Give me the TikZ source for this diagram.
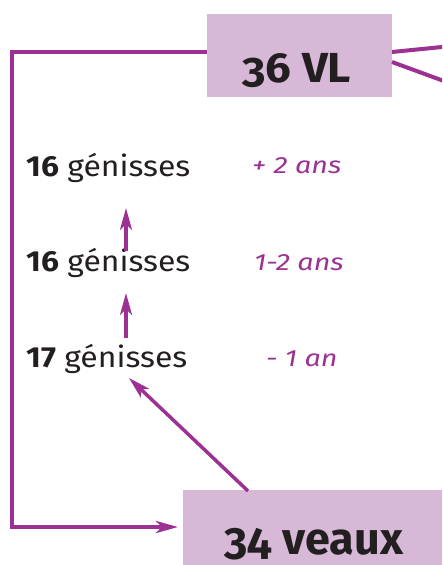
\documentclass[tikz,border=0pt]{standalone}
\usepackage{fontspec}
\setmainfont{Fira Sans}
\usetikzlibrary{arrows.meta}
\definecolor{vio}{HTML}{9C3093}
\definecolor{lila}{HTML}{D7B9D7}
\definecolor{ink}{HTML}{231F20}
\tikzset{
  box/.style={fill=lila, inner sep=0pt},
  bigtxt/.style={anchor=base, inner sep=0pt, text=ink},
  heif/.style={anchor=base west, inner sep=0pt, text=ink, font=\addfontfeatures{FakeStretch=1.1}\fontsize{29}{31}\selectfont},
  age/.style={anchor=base west, inner sep=0pt, text=vio, font=\itshape\addfontfeatures{FakeStretch=1.22}\fontsize{23.5}{25}\selectfont},
  flow/.style={draw=vio, line width=4pt},
  tip/.style={-{Stealth[length=22pt,width=12pt,inset=6pt]}},
}
\begin{document}
\begin{tikzpicture}[x=1pt,y=-1pt]
\useasboundingbox (0,0) rectangle (442,565);
\clip (0,0) rectangle (442,565);
% boxes
\node (vl) [box, minimum width=185pt, minimum height=83pt] at (299.5,55.5) {};
\node (vltxt) [bigtxt, font=\bfseries\addfontfeatures{Numbers=OldStyle,FakeStretch=1.08}\fontsize{42}{44}\selectfont] at (297,82) {36 VL};
\node (veaux) [box, minimum width=277pt, minimum height=90pt] at (321.5,535) {};
\node (vxtxt) [bigtxt, font=\bfseries\addfontfeatures{Numbers=OldStyle}\fontsize{45}{47}\selectfont] at (314,554) {34 veaux};
% heifers
\node (g2) [heif] at (26,176) {\textbf{16} génisses};
\node (g1) [heif] at (26,271) {\textbf{16} génisses};
\node (g0) [heif] at (26,367) {\textbf{17} génisses};
\node (a2) [age] at (252,173) {+ 2 ans};
\node (a1) [age] at (254,270) {1-2 ans};
\node (a0) [age] at (266,366) {- 1 an};
% coordinates
\coordinate (c1) at (12,52);
\coordinate (c2) at (12,527);
\coordinate (vlw) at (vl.west |- 0,52);
\coordinate (vxw) at (178,527);
\coordinate (r1) at (392,52);
\coordinate (r2) at (392,62);
\coordinate (o1) at (452,46);
\coordinate (o2) at (452,84);
\coordinate (u1s) at (126,251);
\coordinate (u1e) at (126,208);
\coordinate (u2s) at (126,338);
\coordinate (u2e) at (126,293);
\coordinate (ds) at (248,491);
\coordinate (de) at (129,378);
% connectors
\draw[flow, tip] (vlw) -- (c1) -- (c2) -- (vxw);
\draw[flow] (r1) -- (o1);
\draw[flow] (r2) -- (o2);
\draw[flow, line width=3.5pt, tip] (u1s) -- (u1e);
\draw[flow, line width=3.5pt, tip] (u2s) -- (u2e);
\draw[flow, line width=3.5pt, tip] (ds) -- (de);
\end{tikzpicture}
\end{document}
